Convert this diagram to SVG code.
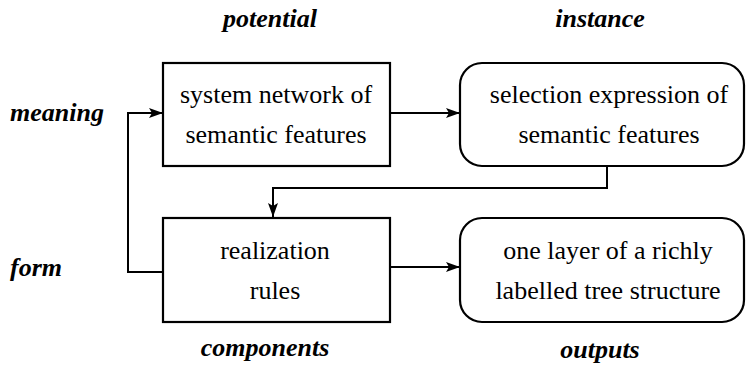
<svg xmlns="http://www.w3.org/2000/svg" width="746" height="376" viewBox="0 0 746 376">
<defs>
<marker id="arr" viewBox="0 0 14 10" refX="14" refY="5" markerWidth="14" markerHeight="10" markerUnits="userSpaceOnUse" orient="auto">
<path d="M0,0 L14,5 L0,10 L3,5 Z" fill="#000"/>
</marker>
</defs>
<style>
.box{fill:#fff;stroke:#000;stroke-width:2.2}
.c{fill:none;stroke:#000;stroke-width:2}
</style>
<rect width="746" height="376" fill="#fff"/>
<g id="labels" fill="#000">
<text style="font-family:'Liberation Serif',serif !important;font-size:26px;font-style:italic;font-weight:bold" x="270" y="27" text-anchor="middle">potential</text>
<text style="font-family:'Liberation Serif',serif !important;font-size:26px;font-style:italic;font-weight:bold" x="600" y="27" text-anchor="middle">instance</text>
<text style="font-family:'Liberation Serif',serif !important;font-size:26px;font-style:italic;font-weight:bold" x="10" y="121">meaning</text>
<text style="font-family:'Liberation Serif',serif !important;font-size:26px;font-style:italic;font-weight:bold" x="10" y="276">form</text>
<text style="font-family:'Liberation Serif',serif !important;font-size:26px;font-style:italic;font-weight:bold" x="265" y="356" text-anchor="middle">components</text>
<text style="font-family:'Liberation Serif',serif !important;font-size:26px;font-style:italic;font-weight:bold" x="600" y="358" text-anchor="middle">outputs</text>
</g>
<g id="connectors">
<path class="c" d="M390,113 H460" marker-end="url(#arr)"/>
<path class="c" d="M607,166 V188 H273 V217" marker-end="url(#arr)"/>
<path class="c" d="M390,267 H460" marker-end="url(#arr)"/>
<path class="c" d="M163,272 H128 V113 H163" marker-end="url(#arr)"/>
</g>
<g id="system-network">
<rect class="box" x="163" y="63" width="227" height="103"/>
<text style="font-family:'Liberation Serif',serif !important;font-size:26px" text-anchor="middle" x="276" y="103">system network of</text>
<text style="font-family:'Liberation Serif',serif !important;font-size:26px" text-anchor="middle" x="276" y="143">semantic features</text>
</g>
<g id="selection-expression">
<rect class="box" x="460" y="63" width="284" height="103" rx="22" ry="22"/>
<text style="font-family:'Liberation Serif',serif !important;font-size:26px" text-anchor="middle" x="609" y="103">selection expression of</text>
<text style="font-family:'Liberation Serif',serif !important;font-size:26px" text-anchor="middle" x="609" y="143">semantic features</text>
</g>
<g id="realization-rules">
<rect class="box" x="163" y="218" width="227" height="104"/>
<text style="font-family:'Liberation Serif',serif !important;font-size:26px" text-anchor="middle" x="275" y="259">realization</text>
<text style="font-family:'Liberation Serif',serif !important;font-size:26px" text-anchor="middle" x="275" y="299">rules</text>
</g>
<g id="tree-structure">
<rect class="box" x="460" y="218" width="284" height="104" rx="22" ry="22"/>
<text style="font-family:'Liberation Serif',serif !important;font-size:26px" text-anchor="middle" x="608" y="259">one layer of a richly</text>
<text style="font-family:'Liberation Serif',serif !important;font-size:26px" text-anchor="middle" x="608" y="299">labelled tree structure</text>
</g>
</svg>
